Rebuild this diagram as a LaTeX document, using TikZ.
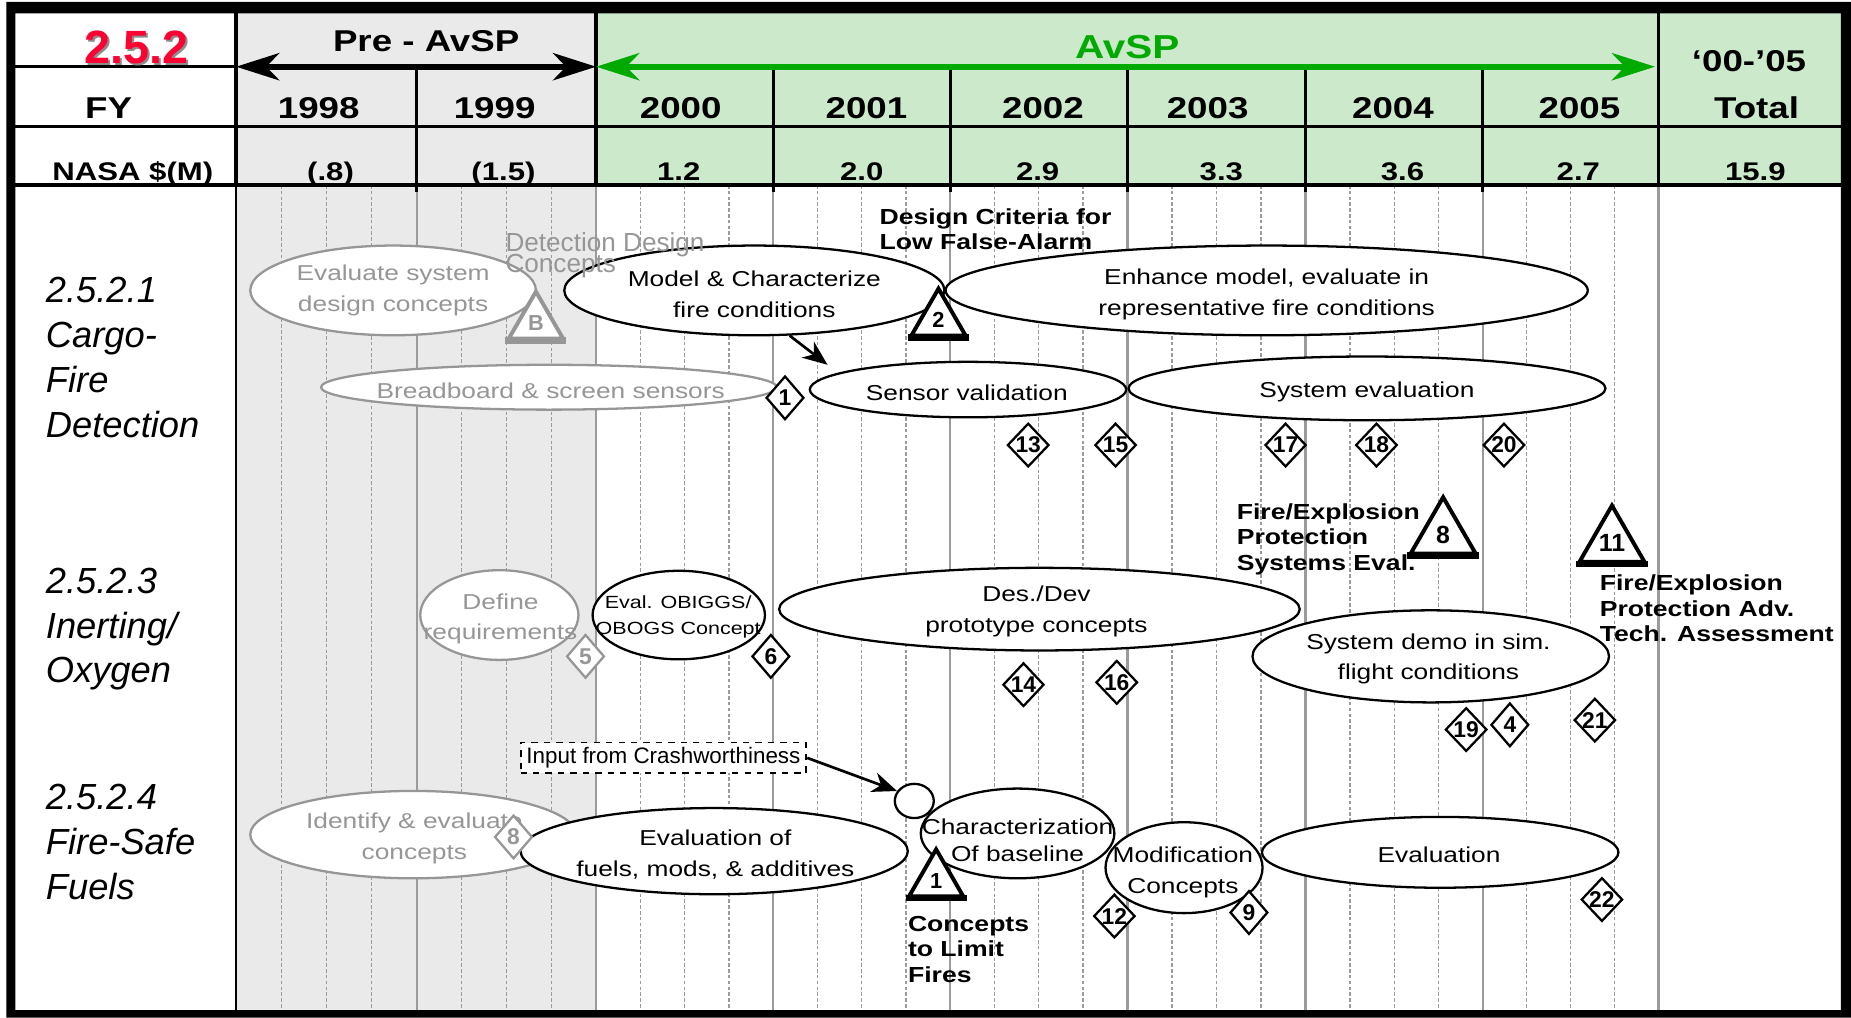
\documentclass[tikz,border=0pt]{standalone}
\usepackage{fontspec}
\setmainfont{Liberation Sans}
\newfontfamily\wfont[FakeStretch=1.22]{Liberation Sans}
\usetikzlibrary{shapes.geometric, arrows.meta}

\definecolor{grayc}{RGB}{150,150,150}
\definecolor{gridc}{RGB}{155,155,155}
\definecolor{preav}{RGB}{234,234,234}
\definecolor{avsp}{RGB}{204,233,204}
\definecolor{avgreen}{RGB}{0,170,0}
\definecolor{ttlred}{RGB}{255,0,51}

\begin{document}
\begin{tikzpicture}[x=0.2mm, y=-0.2mm,
        bub/.style={ellipse, draw, fill=white, line width=1.1pt, inner sep=0pt},
        graybub/.style={bub, draw=grayc},
        txt/.style={align=center, font=\wfont\fontsize{10.4}{14.8}\selectfont},
        graytxt/.style={txt, text=grayc},
        note/.style={anchor=west, align=left, font=\wfont\bfseries\fontsize{10.5}{12.3}\selectfont},
        ms/.style={diamond, draw, fill=white, line width=1.1pt, inner sep=0pt, minimum width=6.4mm, minimum height=7.4mm, font=\bfseries\fontsize{11}{11}\selectfont},
        grayms/.style={ms, draw=grayc, text=grayc},
        tri/.style={regular polygon, regular polygon sides=3, draw, fill=white, line width=1.9pt, inner sep=0pt, minimum size=10.6mm, font=\bfseries\fontsize{10.5}{10.5}\selectfont},
        bigtri/.style={tri, minimum size=12.7mm, font=\bfseries\fontsize{12}{12}\selectfont},
        hdr/.style={anchor=base, font=\wfont\bfseries\fontsize{14.5}{14.5}\selectfont},
        amt/.style={anchor=base, font=\wfont\bfseries\fontsize{12.3}{12.3}\selectfont},
        rowlbl/.style={anchor=west, align=left, font=\itshape\fontsize{17.5}{21.6}\selectfont},
        hline/.style={line width=1.6pt},
        span/.style={<->, >={Stealth[length=7.3mm, width=4.6mm, inset=2.2mm]}, line width=3pt},
        arrow/.style={->, >={Stealth[length=4.2mm, width=3.4mm, inset=1.3mm]}, line width=1.3pt},
        gridy/.style={draw=gridc, line width=1.1pt},
        gridq/.style={draw=gridc, line width=0.6pt, dash pattern=on 1.7pt off 1.1pt}]

    \useasboundingbox (0,0) rectangle (1568,862);

    % background and grid
    \fill[preav] (200,11.3) rectangle (505,855.6);
    \fill[avsp] (505,11.3) rectangle (1559.5,156.7);
    \foreach \a/\b in {200/353, 353/505, 505/655, 655/805, 805/955, 955/1106, 1106/1256, 1256/1405}
        \foreach \j in {1,2,3}
            \draw[gridq] ({\a+(\b-\a)*\j/4},156.7) -- ({\a+(\b-\a)*\j/4},855.6);
    \foreach \x in {353,505,655,805,955,1106,1256,1405}
        \draw[gridy] (\x,156.7) -- (\x,855.6);
    \draw[line width=1pt] (200,156.7) -- (200,855.6);

    % header
    \draw[hline] (13,56.5) -- (200,56.5);
    \draw[hline] (13,107) -- (1559.5,107);
    \draw[hline] (13,156.7) -- (1559.5,156.7);
    \foreach \x in {200,505,1405}
        \draw[hline] (\x,11.3) -- (\x,156.7);
    \foreach \x in {353,655,805,955,1106,1256}
        \draw[hline] (\x,56.5) -- (\x,163);
    \draw[span] (200,56.5) -- (505,56.5);
    \draw[span, color=avgreen] (505,56.5) -- (1402,56.5);

    \node (ttlshadow) [anchor=base, text=black!45, font=\bfseries\fontsize{22.5}{22.5}\selectfont] at (117.5,55.6) {2.5.2};
    \node (ttl) [anchor=base, text=ttlred, font=\bfseries\fontsize{22.5}{22.5}\selectfont] at (115.5,53.6) {2.5.2};
    \node (preavsp) [hdr] at (361,43.8) {Pre - AvSP};
    \node (avsplbl) [hdr, text=avgreen, font=\wfont\bfseries\fontsize{16}{16}\selectfont] at (955,49.4) {AvSP};
    \node (totyrs) [hdr] at (1481.6,60.7) {‘00-’05};
    \node (fy) [hdr] at (92,100.2) {FY};
    \node (y98) [hdr] at (270,100.2) {1998};
    \node (y99) [hdr] at (419,100.2) {1999};
    \node (y00) [hdr] at (576.6,100.2) {2000};
    \node (y01) [hdr] at (734,100.2) {2001};
    \node (y02) [hdr] at (883.5,100.2) {2002};
    \node (y03) [hdr] at (1023,100.2) {2003};
    \node (y04) [hdr] at (1180,100.2) {2004};
    \node (y05) [hdr] at (1338,100.2) {2005};
    \node (total) [hdr] at (1488,100.2) {Total};
    \node (nasa) [amt] at (112.5,152.5) {NASA \$(M)};
    \node (m98) [amt] at (280,152.5) {(.8)};
    \node (m99) [amt] at (426.5,152.5) {(1.5)};
    \node (m00) [amt] at (575,152.5) {1.2};
    \node (m01) [amt] at (730,152.5) {2.0};
    \node (m02) [amt] at (879,152.5) {2.9};
    \node (m03) [amt] at (1034.6,152.5) {3.3};
    \node (m04) [amt] at (1188,152.5) {3.6};
    \node (m05) [amt] at (1337,152.5) {2.7};
    \node (mtot) [amt] at (1487,152.5) {15.9};

    % row labels
    \node (lbldet) [rowlbl] at (32.7,303) {2.5.2.1\\Cargo-\\Fire\\Detection};
    \node (lblinert) [rowlbl] at (32.7,533) {2.5.2.3\\Inerting/\\Oxygen};
    \node (lblfuel) [rowlbl] at (32.7,713.5) {2.5.2.4\\Fire-Safe\\Fuels};

    % pre-AvSP work
    \node (evalsys) [graybub, minimum width=48.4mm, minimum height=15.2mm] at (333,246) {};
    \node (evalsystxt) [graytxt] at (evalsys) {Evaluate system\\design concepts};
    \node (breadbd) [graybub, minimum width=77.2mm, minimum height=7.6mm] at (465,328) {};
    \node (breadbdtxt) [graytxt, anchor=base] at (466.5,337.5) {Breadboard \& screen sensors};
    \node (define) [graybub, minimum width=26.8mm, minimum height=15.2mm] at (423,521) {};
    \node (definetxt) [graytxt] at (424,524.4) {Define\\requirements};
    \node (identify) [graybub, minimum width=55.2mm, minimum height=14.8mm] at (350,707) {};
    \node (identifytxt) [graytxt] at (351,710) {Identify \& evaluate\\concepts};

    % detection
    \node (model) [bub, minimum width=64.4mm, minimum height=15.2mm] at (639,246) {};
    \node (modeltxt) [txt] at (639,249.4) {Model \& Characterize\\fire conditions};
    \node (detdesign) [anchor=west, align=left, text=grayc, font={\fontsize{12.6}{10}\selectfont\lineskiplimit=-20pt}] at (422,216) {Detection Design\\Concepts};
    \node (enhance) [bub, minimum width=108.8mm, minimum height=15.2mm] at (1073,246) {};
    \node (enhancetxt) [txt] at (1073,249.4) {Enhance model, evaluate in\\representative fire conditions};
    \node (sensor) [bub, minimum width=53.6mm, minimum height=9.4mm] at (820,330) {};
    \node (sensortxt) [txt, anchor=base] at (819,339) {Sensor validation};
    \node (syseval) [bub, minimum width=80.8mm, minimum height=10.8mm] at (1158,329) {};
    \node (sysevaltxt) [txt, anchor=base] at (1158,337) {System evaluation};
    \coordinate (sensortip) at (701,309);
    \draw[arrow] (model.-52) -- (sensortip);

    % inerting
    \node (obiggs) [bub, minimum width=29.2mm, minimum height=15mm] at (575,521) {};
    \node (obiggstxt) [txt, font=\wfont\fontsize{8.5}{12.5}\selectfont] at (574.5,522.6) {Eval. OBIGGS/\\OBOGS Concept};
    \node (desdev) [bub, minimum width=88.2mm, minimum height=14mm] at (880.5,516) {};
    \node (desdevtxt) [txt] at (878,518) {Des./Dev\\prototype concepts};
    \node (sysdemo) [bub, minimum width=60.4mm, minimum height=15.6mm] at (1212,556) {};
    \node (sysdemotxt) [txt] at (1210,558.2) {System demo in sim.\\flight conditions};

    % fuels
    \node (crash) [draw, fill=white, dashed, line width=0.9pt, inner sep=0pt, minimum width=48.4mm, minimum height=5.2mm, font=\fontsize{10.8}{10.8}\selectfont] at (562,642) {Input from Crashworthiness};
    \node (circ) [bub, minimum width=6.6mm, minimum height=5.8mm] at (774.5,678.5) {};
    \draw[arrow] (crash.east) -- (circ.150);
    \node (evalfuel) [bub, minimum width=65.6mm, minimum height=14.6mm] at (605,721) {};
    \node (evalfueltxt) [txt] at (606,723.7) {Evaluation of\\fuels, mods, \& additives};
    \node (charbase) [bub, minimum width=32.8mm, minimum height=15.2mm] at (862,706) {};
    \node (charbasetxt) [txt, font=\wfont\fontsize{10.4}{13.2}\selectfont] at (862,712) {Characterization\\Of baseline};
    \node (modconc) [bub, minimum width=26.6mm, minimum height=15.4mm] at (1003,735) {};
    \node (modconctxt) [txt] at (1002,739) {Modification\\Concepts};
    \node (evalfin) [bub, minimum width=60.4mm, minimum height=12mm] at (1220,722) {};
    \node (evalfintxt) [txt, anchor=base] at (1219,731) {Evaluation};

    % milestones
    \node (ms1) [ms] at (665,337) {1};
    \node (ms13) [ms] at (871,377) {13};
    \node (ms15) [ms] at (945,377) {15};
    \node (ms17) [ms] at (1089,377) {17};
    \node (ms18) [ms] at (1166,377) {18};
    \node (ms20) [ms] at (1274,377) {20};
    \node (ms5) [grayms] at (496,556) {5};
    \node (ms6) [ms] at (653,556) {6};
    \node (ms14) [ms] at (867,580) {14};
    \node (ms16) [ms] at (946,578) {16};
    \node (ms19) [ms] at (1242,618) {19};
    \node (ms4) [ms] at (1279,614) {4};
    \node (ms21) [ms] at (1351,610) {21};
    \node (ms8) [grayms] at (435,709) {8};
    \node (ms12) [ms] at (944,776) {12};
    \node (ms9) [ms] at (1058,773) {9};
    \node (ms22) [ms] at (1357,762) {22};

    \node (tB) [tri, draw=grayc, text=grayc] at (454,273.5) {B};
    \node (t2) [tri] at (795,271) {2};
    \node (t8) [bigtri] at (1222.5,453) {8};
    \node (t11) [bigtri] at (1365.5,460) {11};
    \node (t1) [tri] at (793,746) {1};
    \draw[line width=3pt, grayc] (tB.corner 2) -- (tB.corner 3);
    \foreach \t in {t2,t8,t11,t1}
        \draw[line width=3pt] (\t.corner 2) -- (\t.corner 3);

    \node (critlbl) [note] at (739,194) {Design Criteria for\\Low False-Alarm};
    \node (fesyslbl) [note] at (1041.5,456.8) {Fire/Explosion\\Protection\\Systems Eval.};
    \node (feadvlbl) [note] at (1349,515.3) {Fire/Explosion\\Protection Adv.\\Tech. Assessment};
    \node (conclbl) [note] at (763,804) {Concepts\\to Limit\\Fires};

    % frame
    \fill[even odd rule] (5.5,1.5) rectangle (1568,862) (13,11.3) rectangle (1559.5,855.6);
\end{tikzpicture}
\end{document}
